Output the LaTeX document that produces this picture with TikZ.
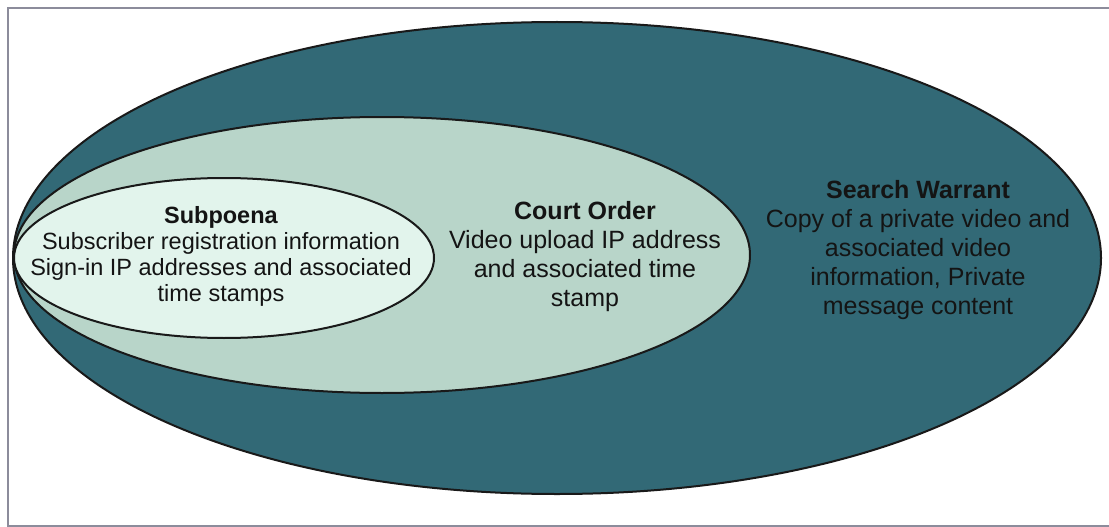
\documentclass[tikz,border=0pt]{standalone}
\usepackage{fontspec}
\setmainfont{Liberation Sans}
\definecolor{warrantcol}{RGB}{50,105,118}
\definecolor{ordercol}{RGB}{184,213,201}
\definecolor{subpcol}{RGB}{226,244,236}
\definecolor{framecol}{RGB}{140,140,155}
\begin{document}
\begin{tikzpicture}[x=1pt, y=-1pt,
	every node/.style={align=center, text=black!92, inner sep=0pt},
	small/.style={font=\fontsize{23.5}{26}\selectfont},
	big/.style={font=\fontsize{25}{29}\selectfont},
	ring/.style={draw=black!90, line width=2pt}]
	\useasboundingbox (0,0) rectangle (1109,527);
	\draw[framecol, line width=1.5pt] (1115,8) -- (8,8) -- (8,526) -- (1115,526);
	
	\draw[ring, fill=warrantcol] (557,258) ellipse [x radius=544, y radius=236];
	\draw[ring, fill=ordercol] (382,255) ellipse [x radius=368, y radius=138];
	\draw[ring, fill=subpcol] (224,258) ellipse [x radius=210, y radius=80];
	
	\node[small] at (221,256) (SP) {\textbf{Subpoena}\\Subscriber registration information\\Sign-in IP addresses and associated\\time stamps};
	\node[big] at (585,257) (CO) {\textbf{Court Order}\\Video upload IP address\\and associated time\\stamp};
	\node[big] at (918,250) (SW) {\textbf{Search Warrant}\\Copy of a private video and\\associated video\\information, Private\\message content};
\end{tikzpicture}
\end{document}
